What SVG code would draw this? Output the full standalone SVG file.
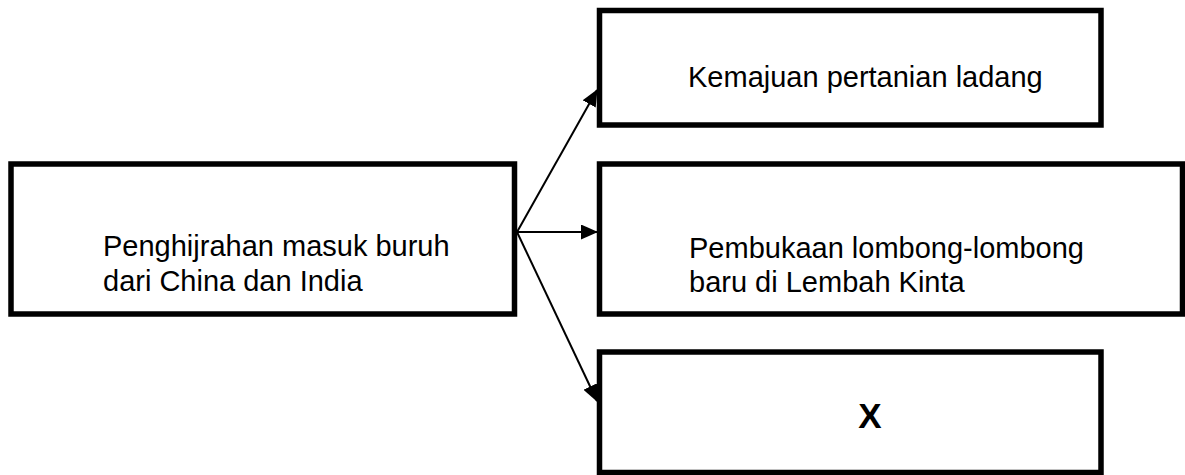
<svg xmlns="http://www.w3.org/2000/svg" width="1185" height="475" viewBox="0 0 1185 475">
<style>
.box{fill:#fff;stroke:#000;stroke-width:5.5}
.t{font-family:"Liberation Sans",Arial,sans-serif;font-size:29px;fill:#000}
.b{font-weight:bold;font-size:35px}
.c{stroke:#000;stroke-width:2;fill:none}
</style>
<defs>
<marker id="ah" markerUnits="userSpaceOnUse" markerWidth="17" markerHeight="15" refX="16" refY="7.5" orient="auto" viewBox="0 0 17 15">
<path d="M0,0 L17,7.5 L0,15 Z" fill="#000"/>
</marker>
</defs>
<rect width="1185" height="475" fill="#fff"/>
<g id="connectors">
<line class="c" x1="517" y1="232" x2="597" y2="90" marker-end="url(#ah)"/>
<line class="c" x1="517" y1="232" x2="597" y2="232" marker-end="url(#ah)"/>
<line class="c" x1="517" y1="232" x2="597" y2="401" marker-end="url(#ah)"/>
</g>
<g id="source">
<rect class="box" x="11" y="164" width="503.5" height="150"/>
<text class="t" x="103" y="256">Penghijrahan masuk buruh</text>
<text class="t" x="103" y="291">dari China dan India</text>
</g>
<g id="effect1">
<rect class="box" x="599.5" y="10.5" width="501.5" height="114.5"/>
<text class="t" x="688" y="87">Kemajuan pertanian ladang</text>
</g>
<g id="effect2">
<rect class="box" x="599.5" y="164" width="583" height="150"/>
<text class="t" x="689" y="258">Pembukaan lombong-lombong</text>
<text class="t" x="689" y="292">baru di Lembah Kinta</text>
</g>
<g id="effect3">
<rect class="box" x="599.5" y="352" width="501.5" height="120.5"/>
<text class="t b" x="870" y="428" text-anchor="middle">X</text>
</g>
</svg>
